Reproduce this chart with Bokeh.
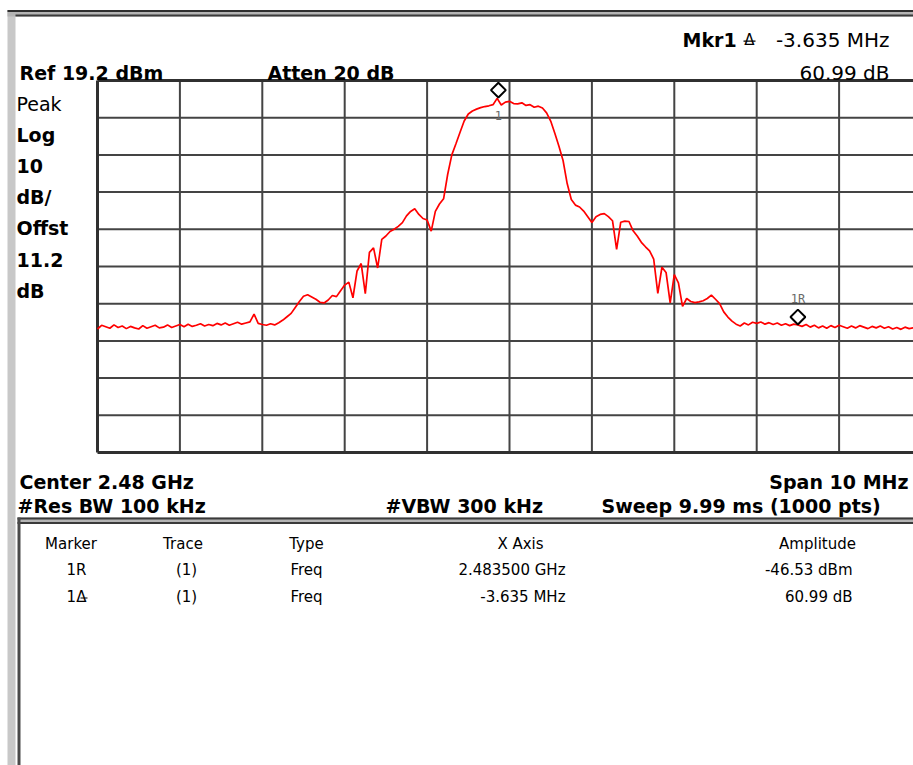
import math
import numpy as np
from bokeh.plotting import figure
from bokeh.models import Label, BoxAnnotation
from bokeh.embed import file_html
from bokeh.resources import INLINE

center_ghz = 2.48
span_mhz = 10.0
ref_level_dbm = 19.2
scale_db_per_div = 10.0
n_divisions = 10

# trace amplitude in dBm, one value every 0.05 MHz from -5.00 to +5.00 MHz
trace_dbm = [
    # -5.00 .. -4.55
    -47.6, -46.6, -47.0, -47.4, -46.5, -47.2, -46.8, -47.5, -46.9, -47.3,
    # -4.50 .. -4.05
    -47.6, -46.7, -47.4, -47.0, -46.6, -47.3, -47.1, -46.5, -47.2, -46.8,
    # -4.00 .. -3.55
    -46.4, -47.0, -46.3, -46.9, -46.6, -46.2, -46.8, -46.4, -46.7, -46.1,
    # -3.50 .. -3.05
    -46.5, -46.0, -46.6, -46.2, -45.8, -46.3, -46.0, -45.7, -43.6, -46.1,
    # -3.00 .. -2.55
    -46.4, -46.6, -46.2, -46.5, -45.9, -45.2, -44.3, -43.4, -41.8, -40.2,
    # -2.50 .. -2.05
    -38.8, -38.4, -39.0, -39.6, -40.4, -40.6, -39.8, -38.6, -38.9, -37.3,
    # -2.00 .. -1.55
    -35.8, -35.0, -39.2, -32.0, -30.0, -38.1, -27.0, -25.8, -31.2, -23.5,
    # -1.50 .. -1.05
    -22.6, -21.4, -20.8, -20.0, -19.0, -17.2, -16.0, -15.3, -16.8, -17.9,
    # -1.00 .. -0.55
    -18.3, -21.3, -16.0, -14.0, -12.6, -6.0, -0.8, 2.2, 5.3, 8.3,
    # -0.50 .. -0.05
    10.2, 11.0, 11.5, 11.9, 12.2, 12.4, 12.7, 14.4, 12.6, 13.4,
    # 0.00 .. 0.45
    13.6, 13.0, 12.9, 13.2, 12.5, 12.7, 12.0, 12.3, 11.8, 10.5,
    # 0.50 .. 0.95
    8.3, 5.0, 1.5, -2.3, -8.5, -12.8, -14.3, -14.8, -15.9, -17.4,
    # 1.00 .. 1.45
    -19.0, -17.4, -16.8, -16.6, -17.4, -18.5, -26.2, -18.9, -18.6, -18.7,
    # 1.50 .. 1.95
    -21.2, -22.6, -24.3, -25.5, -26.6, -28.8, -38.0, -31.0, -32.4, -40.6,
    # 2.00 .. 2.45
    -33.0, -35.2, -41.5, -39.4, -40.2, -40.5, -40.3, -40.0, -39.4, -38.5,
    # 2.50 .. 2.95
    -39.6, -40.8, -43.0, -44.4, -45.5, -46.3, -46.8, -46.0, -46.5, -45.8,
    # 3.00 .. 3.45
    -46.1, -45.7, -46.3, -45.9, -46.4, -46.0, -46.6, -46.2, -46.7, -46.3,
    # 3.50 .. 3.95
    -46.53, -46.9, -46.4, -47.1, -46.6, -47.3, -46.8, -47.4, -46.7, -47.2,
    # 4.00 .. 4.45
    -46.6, -47.0, -47.4, -46.8, -47.3, -46.7, -47.1, -47.5, -46.9, -47.3,
    # 4.50 .. 4.95
    -46.8, -47.4, -47.0, -47.6, -47.2, -47.7, -47.1, -47.5, -47.3, -47.8,
    # 5.00
    -47.4,
]

marker_ref_freq_ghz = 2.4835
marker_ref_amp_dbm = -46.53
marker_delta_freq_mhz = -3.635
marker_delta_amp_db = 60.99

left_labels = ["Peak", "Log", "10", "dB/", "Offst", "11.2", "dB"]
left_bold = [False, True, True, True, True, True, True]

table_headers = ["Marker", "Trace", "Type", "X Axis", "Amplitude"]
table_marker = ["1R", "1\u0394"]
table_trace = ["(1)", "(1)"]
table_type = ["Freq", "Freq"]
table_xaxis = ["2.483500 GHz", "-3.635 MHz"]
table_amplitude = ["-46.53 dBm", "60.99 dB"]

# ---------------- layout ----------------
W, H = 913, 765
GRID_LEFT = 97.0      # px
GRID_TOP = 80.0       # px
GRID_H = 372.0
PX_PER_MHZ = 82.4
PX_PER_DIV = GRID_H / n_divisions
DB_PER_PX = scale_db_per_div / PX_PER_DIV

f_start = center_ghz - span_mhz / 2 / 1000.0
f_stop = center_ghz + span_mhz / 2 / 1000.0
y_top = ref_level_dbm
y_bot = ref_level_dbm - n_divisions * scale_db_per_div


def X(px):
    return f_start + (px - GRID_LEFT) / PX_PER_MHZ / 1000.0


def Y(py):
    return ref_level_dbm - (py - GRID_TOP) * DB_PER_PX


p = figure(width=W, height=H, x_range=(X(0), X(W)), y_range=(Y(H), Y(0)),
           output_backend="svg", toolbar_location=None, title=None,
           x_axis_location=None, y_axis_location=None,
           min_border=0)
p.min_border_left = 0
p.min_border_right = 0
p.min_border_top = 0
p.min_border_bottom = 0
p.outline_line_color = None
p.xgrid.visible = False
p.ygrid.visible = False
p.background_fill_color = "white"
p.border_fill_color = "white"


def box(x0, x1, y0, y1, color):
    p.add_layout(BoxAnnotation(left=X(x0), right=X(x1), top=Y(y0), bottom=Y(y1),
                               fill_color=color, fill_alpha=1.0, line_color=None,
                               level="underlay"))


# decorations
box(7, 15, 10, 765, "#c8c8c8")          # left grey strip
box(7, 913, 9.5, 16, "#b4b4b4")         # top double rule
box(7, 913, 9.5, 11.5, "#2e2e2e")
box(15, 913, 14, 16, "#3a3a3a")
box(17, 913, 517, 523, "#b4b4b4")       # table top double rule
box(17, 913, 517, 519, "#3a3a3a")
box(17, 913, 521.5, 523.5, "#3a3a3a")
box(17, 20, 517, 765, "#4a4a4a")        # table left rule

# graticule from the scale definition
div_f = span_mhz / n_divisions / 1000.0
xg = [f_start + k * div_f for k in range(1, n_divisions + 1)]
yg = [ref_level_dbm - k * scale_db_per_div for k in range(1, n_divisions)]
p.segment(x0=xg, y0=[y_bot] * len(xg), x1=xg, y1=[y_top] * len(xg),
          line_color="#444444", line_width=2)
p.segment(x0=[f_start] * len(yg), y0=yg, x1=[f_stop] * len(yg), y1=yg,
          line_color="#444444", line_width=2)
# frame
p.segment(x0=[f_start, f_start, f_start], y0=[y_bot, y_top, y_bot],
          x1=[f_start, f_stop, f_stop], y1=[y_top, y_top, y_bot],
          line_color="#303030", line_width=3)

# trace
freq_ghz = np.linspace(f_start, f_stop, len(trace_dbm))
p.line(freq_ghz, trace_dbm, line_color="#ff0000", line_width=1.7)

# markers (diamond sits just above the marker point)
m1_f = marker_ref_freq_ghz + marker_delta_freq_mhz / 1000.0
m1_a = marker_ref_amp_dbm + marker_delta_amp_db
mk_f = [marker_ref_freq_ghz, m1_f]
mk_a = [marker_ref_amp_dbm + 8 * DB_PER_PX, m1_a + 8 * DB_PER_PX]
p.scatter(mk_f, mk_a, marker="square", angle=math.pi / 4, size=10.5,
          fill_color="white", line_color="black", line_width=2)


def txt(s, x, y, size=19, bold=False, align="left", color="#000000", font="DejaVu Sans"):
    p.add_layout(Label(x=x, y=y, text=s, text_font=font, text_font_size=f"{size}px",
                       text_font_style="bold" if bold else "normal", text_align=align,
                       text_baseline="alphabetic", text_color=color))


# marker labels
txt("1", m1_f, m1_a - 17.5 * DB_PER_PX, size=12, align="center", color="#6a6a6a",
    font="DejaVu Sans Mono")
txt("1R", marker_ref_freq_ghz, marker_ref_amp_dbm + 26.5 * DB_PER_PX, size=12,
    align="center", color="#6a6a6a", font="DejaVu Sans Mono")

# header
txt("Ref 19.2 dBm", X(19), Y(72), bold=True)
txt("Atten 20 dB", X(267), Y(72), bold=True)
txt("Mkr1", X(682), Y(39), bold=True)
txt("\u0394", X(749), Y(39), size=15, align="center")
box(743, 755, 40, 41.2, "#000000")
txt("-3.635 MHz", X(889), Y(39), size=20, align="right")
txt("60.99 dB", X(889), Y(72), size=20, align="right")

# left annotation column
for i, (s, b) in enumerate(zip(left_labels, left_bold)):
    txt(s, X(16), Y(103 + i * 31.2), size=19, bold=b)

# footer
txt("Center 2.48 GHz", X(19), Y(481), bold=True)
txt("Span 10 MHz", X(908), Y(481), bold=True, align="right")
txt("#Res BW 100 kHz", X(17), Y(505), bold=True)
txt("#VBW 300 kHz", X(385), Y(505), bold=True)
txt("Sweep 9.99 ms (1000 pts)", X(601), Y(505), bold=True)

# marker table
TS = 15
hx = [70.5, 182.5, 306, 520, 817]
for s, cx in zip(table_headers, hx):
    txt(s, X(cx), Y(543), size=TS, align="center")
rows_y = [569, 596]
for i, ry in enumerate(rows_y):
    txt(table_marker[i], X(76), Y(ry), size=TS, align="center")
    txt(table_trace[i], X(186), Y(ry), size=TS, align="center")
    txt(table_type[i], X(306), Y(ry), size=TS, align="center")
    txt(table_xaxis[i], X(565), Y(ry), size=TS, align="right")
    txt(table_amplitude[i], X(852), Y(ry), size=TS, align="right")
box(80, 87, 597, 598, "#000000")   # underline of delta symbol

open("out.html", "w").write(file_html(p, INLINE))
